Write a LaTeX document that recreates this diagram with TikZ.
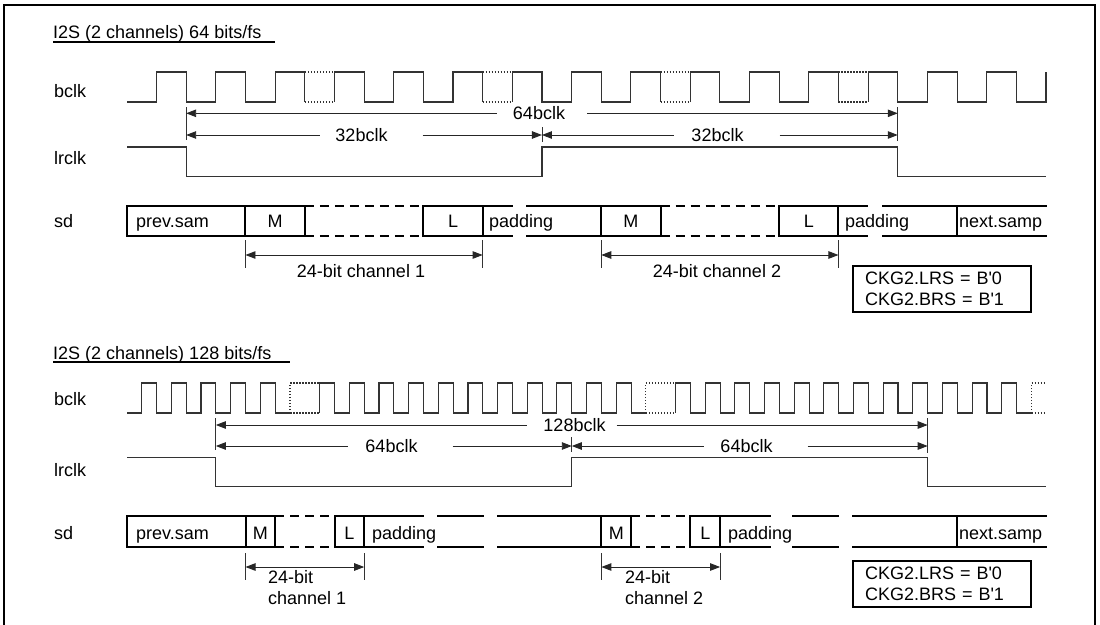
\documentclass[tikz,border=0pt]{standalone}
\usepackage{fontspec}
\setmainfont{Liberation Sans}
\usetikzlibrary{arrows.meta}

\begin{document}
\begin{tikzpicture}[
  x=1pt,y=-1pt,
  font=\fontsize{18}{21}\selectfont,
  >={Triangle[length=10pt,width=7.5pt]},
  % clock lines are thin, left-out cycles are dotted
  wave/.style={line width=1.1pt,draw=black!80},
  ghost/.style={line width=1.1pt,draw=black!80,dash pattern=on 1.5pt off 1.5pt},
  bus/.style={line width=2pt,line cap=rect},
  busdash/.style={line width=2pt,dash pattern=on 9pt off 6pt},
  dimline/.style={line width=0.9pt,draw=black!85},
  extline/.style={line width=0.9pt,draw=black!80},
  rule/.style={line width=1.8pt},
  lbl/.style={anchor=base west,inner sep=0pt},
  val/.style={anchor=base,inner sep=0pt},
  txt/.style={inner sep=0pt},
  reg/.style={draw,line width=2pt,outer sep=0pt,anchor=north west,align=left,
              text width=154pt,inner xsep=12pt,inner ysep=0pt,minimum height=46pt,
              font=\fontsize{18}{20.5}\selectfont},
]

\useasboundingbox (0,0) rectangle (1100,624);
\draw[line width=2.5pt] (4,5) rectangle (1095,628);

% ================================================================ 64 bits/fs
\node[lbl] (ttlA) at (53,38.3) {I2S (2 channels) 64 bits/fs};
\draw[rule] (53,42.3) -- (275,42.3);

\node[lbl] (bclkA)  at (54,97)    {bclk};
\node[lbl] (lrclkA) at (54,164)   {lrclk};
\node[lbl] (sdA)    at (54,227.5) {sd};

% ------------------------------------------------------------------ bclk
\draw[wave] (127,102) -- (156.5,102);
\foreach \s in {156.5,334.4,512.3,690.2}{
  \draw[wave] (\s,102) \foreach \i in {1,2} {-- ++(0,-30) -- ++(29.65,0) -- ++(0,30) -- ++(29.65,0)}
              -- ++(0,-30) -- ++(29.65,0) -- ++(0,30);
  \draw[ghost] (\s+148.25,72) -- ++(29.65,0) (\s+148.25,102) -- ++(29.65,0);
}
\draw[wave] (868.1,102) \foreach \i in {1,2,3} {-- ++(0,-30) -- ++(29.65,0) -- ++(0,30) -- ++(29.65,0)}
            -- ++(0,-30);

% ------------------------------------------------------------------ lrclk
\draw[wave] (127,147) -- (186.15,147) -- (186.15,176.7) -- (541.95,176.7) -- (541.95,147)
            -- (897.75,147) -- (897.75,176.7) -- (1046,176.7);

% frame length marks
\draw[extline] (186.15,107) -- (186.15,140);
\draw[extline] (541.95,127) -- (541.95,142);
\draw[extline] (897.75,107) -- (897.75,141);

\coordinate (fA0) at (186.15,113.3);
\coordinate (fA1) at (897.75,113.3);
\coordinate (hA0) at (186.15,135);
\coordinate (hA1) at (541.95,135);
\coordinate (hA2) at (897.75,135);

\node[txt] (fAt)  at (539,113.3) {64bclk};
\node[txt] (hAt1) at (361.5,135) {32bclk};
\node[txt] (hAt2) at (717.5,135) {32bclk};

\draw[dimline,<-] (fA0) -- ([xshift=-16pt]fAt.west);
\draw[dimline,->] ([xshift=22pt]fAt.east) -- (fA1);
\draw[dimline,<-] (hA0) -- ([xshift=-15pt]hAt1.west);
\draw[dimline,->] ([xshift=35pt]hAt1.east) -- (hA1);
\draw[dimline,<-] (hA1) -- ([xshift=-17pt]hAt2.west);
\draw[dimline,->] ([xshift=36pt]hAt2.east) -- (hA2);

% ------------------------------------------------------------------ sd
\draw[bus] (127,206) -- (304.75,206) (423.35,206) -- (512,206) (527,206) -- (660.55,206)
           (779.15,206) -- (867,206) (883,206) -- (1046,206);
\draw[bus] (127,236) -- (304.75,236) (423.35,236) -- (512,236) (527,236) -- (660.55,236)
           (779.15,236) -- (867,236) (883,236) -- (1046,236);
\draw[busdash] (304.75,206) -- (423.35,206) (660.55,206) -- (779.15,206);
\draw[busdash] (304.75,236) -- (423.35,236) (660.55,236) -- (779.15,236);
\draw[bus] (127,206) -- (127,236) (245.45,206) -- (245.45,236) (304.75,206) -- (304.75,236)
           (423.35,206) -- (423.35,236) (482.65,206) -- (482.65,236)
           (601.25,206) -- (601.25,236) (660.55,206) -- (660.55,236)
           (779.15,206) -- (779.15,236) (838.45,206) -- (838.45,236)
           (957.05,206) -- (957.05,236);

\node[lbl] (prevA) at (136,227.5)   {prev.sam};
\node[val] (msbA1) at (275.1,227.5) {M};
\node[val] (lsbA1) at (453,227.5)   {L};
\node[lbl] (padA1) at (489,227.5)   {padding};
\node[val] (msbA2) at (630.9,227.5) {M};
\node[val] (lsbA2) at (808.8,227.5) {L};
\node[lbl] (padA2) at (845,227.5)   {padding};
\node[lbl] (nextA) at (959,227.5)   {next.samp};

\draw[extline] (245.45,240) -- (245.45,268) (482.65,240) -- (482.65,268);
\draw[extline] (601.25,240) -- (601.25,268) (838.45,240) -- (838.45,268);
\coordinate (cA1s) at (245.45,255);
\coordinate (cA1e) at (482.65,255);
\coordinate (cA2s) at (601.25,255);
\coordinate (cA2e) at (838.45,255);
\draw[dimline,<->] (cA1s) -- (cA1e);
\draw[dimline,<->] (cA2s) -- (cA2e);
\node[txt] (wA1) at (361,271.2) {24-bit channel 1};
\node[txt] (wA2) at (717,271.2) {24-bit channel 2};

\node[reg] (regA) at (853,266) {CKG2.LRS = B\textquotesingle 0\\CKG2.BRS = B\textquotesingle 1};

% =============================================================== 128 bits/fs
\node[lbl] (ttlB) at (53,359.5) {I2S (2 channels) 128 bits/fs};
\draw[rule] (53,361.7) -- (290,361.7);

\node[lbl] (bclkB)  at (54,405) {bclk};
\node[lbl] (lrclkB) at (54,476) {lrclk};
\node[lbl] (sdB)    at (54,539) {sd};

% ------------------------------------------------------------------ bclk
\draw[wave] (127,413) -- (141.7,413)
            \foreach \i in {1,...,5} {-- ++(0,-30) -- ++(14.83,0) -- ++(0,30) -- ++(14.83,0)};
\draw[ghost] (290,413) -- (290,383) -- ++(29.66,0) (290,413) -- ++(29.66,0);
\draw[wave] (319.66,413)
            \foreach \i in {1,...,11} {-- ++(0,-30) -- ++(14.83,0) -- ++(0,30) -- ++(14.83,0)};
\draw[ghost] (645.92,413) -- (645.92,383) -- ++(29.66,0) (645.92,413) -- ++(29.66,0);
\draw[wave] (675.58,413)
            \foreach \i in {1,...,12} {-- ++(0,-30) -- ++(14.83,0) -- ++(0,30) -- ++(14.83,0)};
\draw[ghost] (1031.5,413) -- (1031.5,383) -- (1046,383) (1031.5,413) -- (1046,413);

% ------------------------------------------------------------------ lrclk
\draw[wave] (127,457.7) -- (215.85,457.7) -- (215.85,486.7) -- (571.8,486.7) -- (571.8,457.7)
            -- (927.7,457.7) -- (927.7,486.7) -- (1046,486.7);

\draw[extline] (215.85,418) -- (215.85,450);
\draw[extline] (571.8,437) -- (571.8,452);
\draw[extline] (927.7,418) -- (927.7,453);

\coordinate (fB0) at (215.85,425);
\coordinate (fB1) at (927.7,425);
\coordinate (hB0) at (215.85,446);
\coordinate (hB1) at (571.8,446);
\coordinate (hB2) at (927.7,446);

\node[txt] (fBt)  at (574.5,425) {128bclk};
\node[txt] (hBt1) at (391.5,446) {64bclk};
\node[txt] (hBt2) at (746.5,446) {64bclk};

\draw[dimline,<-] (fB0) -- ([xshift=-16pt]fBt.west);
\draw[dimline,->] ([xshift=11pt]fBt.east) -- (fB1);
\draw[dimline,<-] (hB0) -- ([xshift=-17pt]hBt1.west);
\draw[dimline,->] ([xshift=35pt]hBt1.east) -- (hB1);
\draw[dimline,<-] (hB1) -- ([xshift=-16pt]hBt2.west);
\draw[dimline,->] ([xshift=35pt]hBt2.east) -- (hB2);

% ------------------------------------------------------------------ sd
\draw[bus] (127,516) -- (275.2,516) (334.5,516) -- (423,516) (438,516) -- (483,516)
           (498,516) -- (631.1,516) (690.4,516) -- (770,516) (793,516) -- (838,516)
           (853,516) -- (1046,516);
\draw[bus] (127,546.7) -- (275.2,546.7) (334.5,546.7) -- (423,546.7) (438,546.7) -- (483,546.7)
           (498,546.7) -- (631.1,546.7) (690.4,546.7) -- (770,546.7) (793,546.7) -- (838,546.7)
           (853,546.7) -- (1046,546.7);
\draw[busdash] (275.2,516) -- (334.5,516) (631.1,516) -- (690.4,516);
\draw[busdash] (275.2,546.7) -- (334.5,546.7) (631.1,546.7) -- (690.4,546.7);
\draw[bus] (127,516) -- (127,546.7) (245.5,516) -- (245.5,546.7) (275.2,516) -- (275.2,546.7)
           (334.5,516) -- (334.5,546.7) (364.2,516) -- (364.2,546.7)
           (601.4,516) -- (601.4,546.7) (631.1,516) -- (631.1,546.7)
           (690.4,516) -- (690.4,546.7) (720.1,516) -- (720.1,546.7)
           (957.4,516) -- (957.4,546.7);

\node[lbl] (prevB) at (136,539)    {prev.sam};
\node[val] (msbB1) at (260.35,539) {M};
\node[val] (lsbB1) at (349.35,539) {L};
\node[lbl] (padB1) at (372,539)    {padding};
\node[val] (msbB2) at (616.25,539) {M};
\node[val] (lsbB2) at (705.25,539) {L};
\node[lbl] (padB2) at (728,539)    {padding};
\node[lbl] (nextB) at (959,539)    {next.samp};

\draw[extline] (245.5,553) -- (245.5,580) (364.2,553) -- (364.2,580);
\draw[extline] (601.4,553) -- (601.4,580) (720.1,553) -- (720.1,580);
\coordinate (cB1s) at (245.5,567);
\coordinate (cB1e) at (364.2,567);
\coordinate (cB2s) at (601.4,567);
\coordinate (cB2e) at (720.1,567);
\draw[dimline,<->] (cB1s) -- (cB1e);
\draw[dimline,<->] (cB2s) -- (cB2e);
\node[txt,anchor=north west,align=left] (wB1) at (268,570.2) {24-bit\\channel 1};
\node[txt,anchor=north west,align=left] (wB2) at (625,570.2) {24-bit\\channel 2};

\node[reg] (regB) at (853,560.7) {CKG2.LRS = B\textquotesingle 0\\CKG2.BRS = B\textquotesingle 1};

\end{tikzpicture}
\end{document}
